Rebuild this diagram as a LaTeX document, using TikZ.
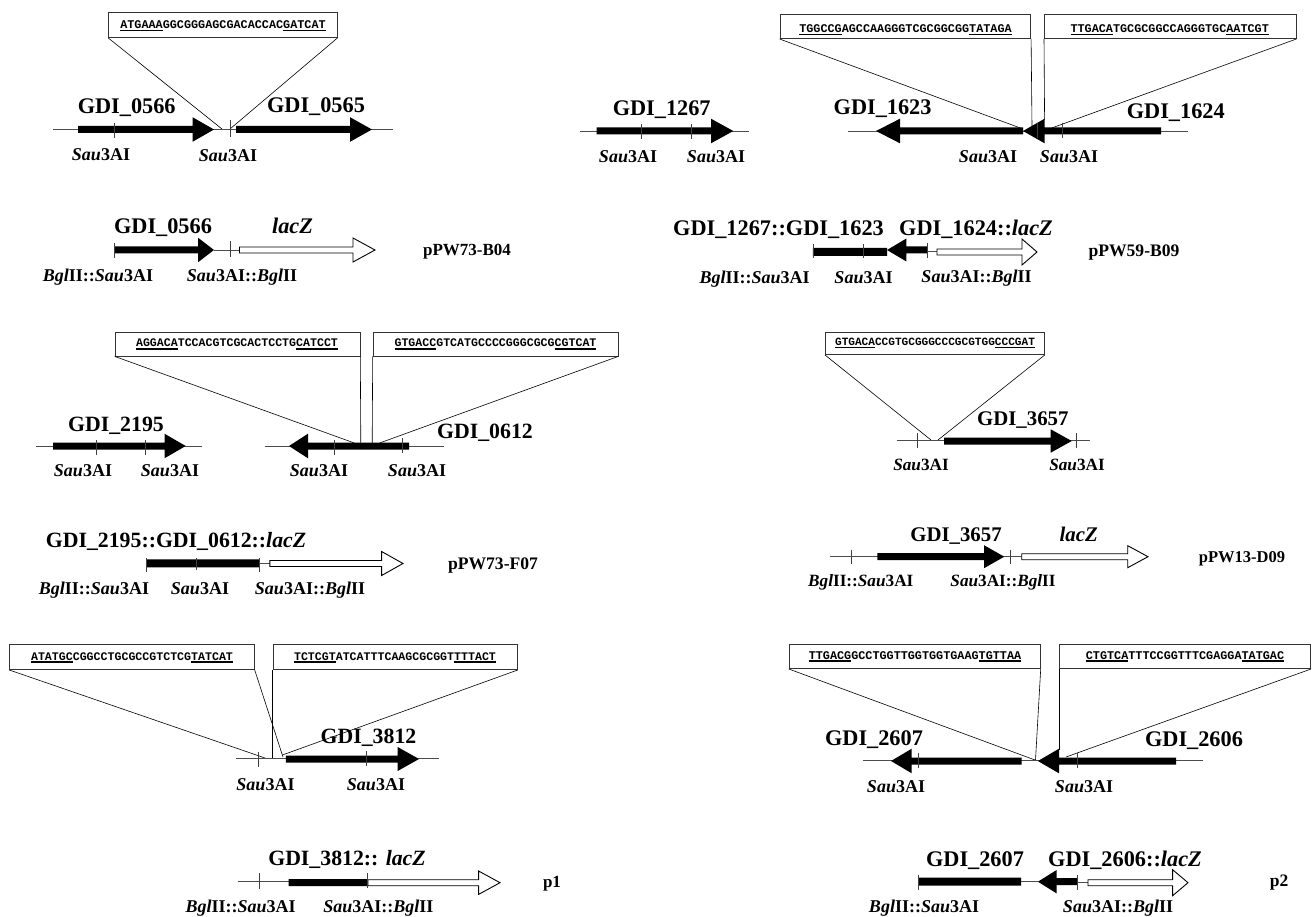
\documentclass[tikz,border=0pt]{standalone}
\usepackage{fontspec}
\setmainfont{Liberation Serif}
\newfontfamily\seqfont{Liberation Mono}
\newcommand\ulpart[1]{\leavevmode\setbox0\hbox{#1}\rlap{\rule[-2.6pt]{\wd0}{1.4pt}}\box0}
\newcommand\seqtxt[3]{\ulpart{#1}#2\ulpart{#3}}
\newcommand\sau{\textit{Sau}3AI}
\newcommand\bgl{\textit{Bgl}II}
\newcommand\garrow[6][7]{%
 \fill ({#2},{#4-#1/2}) -- ({#3-#5},{#4-#1/2}) -- ({#3-#5},{#4-#6}) -- ({#3},{#4}) -- ({#3-#5},{#4+#6}) -- ({#3-#5},{#4+#1/2}) -- ({#2},{#4+#1/2}) -- cycle;}
\newcommand\oarrow[5]{%
 \draw[fill=white,line width=0.9pt] ({#1},{#3-3}) -- ({#2-#4},{#3-3}) -- ({#2-#4},{#3-#5}) -- ({#2},{#3}) -- ({#2-#4},{#3+#5}) -- ({#2-#4},{#3+3}) -- ({#1},{#3+3}) -- cycle;}
\newcommand\tick[3]{\draw[tickline] ({#1},{#2}) -- ({#1},{#3});}
\tikzset{
 dna/.style={line width=0.6pt,draw=black!70},
 tickline/.style={line width=0.7pt,draw=black!75},
 callout/.style={line width=0.6pt,draw=black},
 seqbox/.style={draw=black!80,line width=0.7pt,fill=white,inner sep=0pt,anchor=north west,align=center},
 title/.style={anchor=base,inner sep=0pt,font=\fontsize{22.3}{24}\selectfont\bfseries},
 titlec/.style={anchor=base,inner sep=0pt,font=\fontsize{21.8}{24}\selectfont\bfseries},
 titled/.style={anchor=base,inner sep=0pt,font=\fontsize{20.8}{24}\selectfont\bfseries},
 site/.style={anchor=base,inner sep=0pt,font=\fontsize{18}{20}\selectfont\bfseries},
 sited/.style={anchor=base,inner sep=0pt,font=\fontsize{17.2}{20}\selectfont\bfseries},
 plasmid/.style={anchor=base,inner sep=0pt,font=\fontsize{17}{20}\selectfont\bfseries},
 plasmidb/.style={anchor=base,inner sep=0pt,font=\fontsize{17.6}{20}\selectfont\bfseries},
 seqlab/.style={anchor=base,inner sep=0pt,font=\fontsize{11.8}{13}\seqfont\bfseries},
}
\newcommand\seqbx[5]{% name x1 y1 x2 y2
 \node[seqbox,minimum width={(#4-#2)*1pt},minimum height={(#5-#3)*1pt}] (#1) at (#2,#3) {};}
\begin{document}
\begin{tikzpicture}[x=1pt,y=-1pt]
\useasboundingbox (0,0) rectangle (1312,917);

%% Panel A
\seqbx{boxa}{108.3}{12.3}{336.7}{37.3}
\coordinate (a1) at (222,129); \coordinate (a2) at (230,129);
\draw[callout] (boxa.south west) -- (a1);
\draw[callout] (boxa.south east) -- (a2);
\node[seqlab] (sa) at (223,28.5) {\seqtxt{ATGAAA}{GGCGGGAGCGACACCAC}{GATCAT}};
\draw[dna] (53,129.3) -- (392.7,129.3);
\garrow{78}{214}{129.5}{21.5}{12.3}
\garrow{236}{372}{129.5}{22}{12.3}
\tick{114}{122.7}{138}\tick{230}{120}{137}
\node[title] (ta1) at (126.7,114) {GDI\_0566};
\node[title] (ta2) at (316,113) {GDI\_0565};
\node[site] (sa1) at (101,161) {\sau};
\node[site] (sa2) at (228,162) {\sau};

\draw[dna] (214,250) -- (240,250);
\garrow{114}{214}{250}{16}{12.3}
\oarrow{239.5}{375}{250}{22}{12}
\tick{114}{243}{258.5}\tick{230}{241}{257}
\node[title] (ta3) at (163,234) {GDI\_0566};
\node[title] (ta4) at (292.5,234) {\textit{lacZ}};
\node[site] (sa3) at (98,282) {\bgl::\sau};
\node[site] (sa4) at (242,282) {\sau::\bgl};
\node[plasmid] (pa) at (467,256) {pPW73-B04};

%% Panel B
\seqbx{boxb}{779.6}{14}{1030.4}{38.3}
\seqbx{boxc}{1044}{14}{1295.7}{38.3}
\coordinate (b1) at (1023,129); \coordinate (b2) at (1032,126);
\coordinate (b3) at (1044.6,120); \coordinate (b4) at (1051.7,128);
\draw[callout] (boxb.south west) -- (b1);
\draw[callout] (boxb.south east) -- (b2);
\draw[callout] (boxc.south west) -- (b3);
\draw[callout] (boxc.south east) -- (b4);
\node[seqlab] (sb) at (905.5,32.5) {\seqtxt{TGGCCG}{AGCCAAGGGTCGCGGCGG}{TATAGA}};
\node[seqlab] (sc) at (1169.7,32.5) {\seqtxt{TTGACA}{TGCGCGGCCAGGGTGC}{AATCGT}};
\draw[dna] (580,131) -- (749,131);
\garrow{596.7}{733.3}{131}{22.3}{12.3}
\tick{641}{124}{139}\tick{691}{124}{139}
\node[title] (tb0) at (661.7,115.3) {GDI\_1267};
\node[site] (sb1) at (628,162.7) {\sau};
\node[site] (sb2) at (716,162.7) {\sau};
\draw[dna] (848,131) -- (1187.5,131);
\garrow{1023}{876}{131}{-24}{12.3}
\garrow{1161}{1023}{131}{-21.6}{12.3}
\tick{1037.5}{123}{138}\tick{1062}{123}{138}
\node[title] (tb1) at (882.6,115) {GDI\_1623};
\node[title] (tb2) at (1175.8,119) {GDI\_1624};
\node[site] (sb3) at (988,163) {\sau};
\node[site] (sb4) at (1069,163) {\sau};

\draw[dna] (927.5,251.5) -- (937,251.5);
\garrow[8]{812.9}{887}{252}{0}{4}
\garrow{927.5}{887}{250}{-19.4}{11.5}
\oarrow{937}{1037}{252}{15}{13}
\tick{812.9}{244}{258}\tick{863}{244}{258}\tick{927.5}{243}{258}
\node[title] (tb3) at (778.5,236) {GDI\_1267::GDI\_1623};
\node[title] (tb4) at (976,236) {GDI\_1624::\textit{lacZ}};
\node[site] (sb5) at (754.6,284) {\bgl::\sau};
\node[site] (sb6) at (863.5,284) {\sau};
\node[site] (sb7) at (976.5,282.5) {\sau::\bgl};
\node[plasmidb] (pb) at (1134,257) {pPW59-B09};

%% Panel C
\seqbx{boxd}{114.7}{331.7}{359.6}{355.7}
\seqbx{boxe}{372.7}{331.7}{617.6}{355.7}
\coordinate (c1) at (354.3,443); \coordinate (c2) at (360.8,443);
\coordinate (c3) at (372.2,443); \coordinate (c4) at (379.6,443);
\draw[callout] (boxd.south west) -- (c1);
\draw[callout] (boxd.south east) -- (c2);
\draw[callout] (boxe.south west) -- (c3);
\draw[callout] (boxe.south east) -- (c4);
\node[seqlab,font=\fontsize{11.6}{13}\seqfont\bfseries] (sd) at (237,347) {\seqtxt{AGGACA}{TCCACGTCGCACTCCTG}{CATCCT}};
\node[seqlab,font=\fontsize{11.6}{13}\seqfont\bfseries] (se) at (495.5,347) {\seqtxt{GTGACC}{GTCATGCCCCGGGCGCG}{CGTCAT}};
\draw[dna] (36,446) -- (201.6,446);
\garrow{53}{185.7}{446}{21.2}{12.3}
\tick{96}{440}{455}\tick{145}{440}{455}
\draw[dna] (264.5,446) -- (444,446);
\garrow{409}{289}{446}{-19}{12.3}
\tick{334.7}{440}{455}\tick{402}{438}{453}
\node[titlec] (tc1) at (116,431.7) {GDI\_2195};
\node[titlec] (tc2) at (485,438) {GDI\_0612};
\node[site] (sc1) at (83,476.7) {\sau};
\node[site] (sc2) at (170,476.7) {\sau};
\node[site] (sc3) at (319,476.7) {\sau};
\node[site] (sc4) at (417,476.7) {\sau};

\draw[dna] (259.6,563.5) -- (270,563.5);
\garrow[8]{146}{259.6}{563.3}{0}{4}
\oarrow{269.8}{403}{563.5}{21.4}{12}
\tick{146}{558}{572}\tick{196}{558}{570}\tick{259.6}{558}{572}
\node[titlec] (tc3) at (176,547) {GDI\_2195::GDI\_0612::\textit{lacZ}};
\node[site] (sc5) at (94,594) {\bgl::\sau};
\node[site] (sc6) at (200,594) {\sau};
\node[site] (sc7) at (310,594) {\sau::\bgl};
\node[plasmidb] (pc) at (493,569) {pPW73-F07};

%% Panel D
\seqbx{boxf}{825}{331.7}{1044}{354.3}
\coordinate (d1) at (931,440); \coordinate (d2) at (938,440);
\draw[callout] (boxf.south west) -- (d1);
\draw[callout] (boxf.south east) -- (d2);
\node[seqlab,font=\fontsize{11.1}{13}\seqfont\bfseries] (sf) at (935,345.5) {\seqtxt{GTGACA}{CCGTGCGGGCCCGCGTGG}{CCCGAT}};
\draw[dna] (896.7,440.7) -- (1090,440.7);
\garrow{944}{1071.7}{441}{21}{11.7}
\tick{917.3}{433}{448}\tick{1076.7}{433}{448}
\node[titled] (td1) at (1022.8,425) {GDI\_3657};
\node[sited] (sd1) at (921,470) {\sau};
\node[sited] (sd2) at (1077,470) {\sau};

\draw[dna] (830,556.7) -- (1021.7,556.7);
\garrow{877.3}{1004.3}{556.7}{20.3}{11.5}
\oarrow{1021.7}{1148}{556.7}{20.3}{11}
\tick{851}{549.5}{564}\tick{1010}{549.5}{564}
\node[titled] (td2) at (956,541.7) {GDI\_3657};
\node[titled] (td3) at (1078.7,541.7) {\textit{lacZ}};
\node[sited] (sd3) at (860.8,586) {\bgl::\sau};
\node[sited] (sd4) at (1003,586) {\sau::\bgl};
\node[plasmid,font=\fontsize{16.5}{20}\selectfont\bfseries] (pd) at (1242,562) {pPW13-D09};

%% Panel E
\seqbx{boxg}{9.3}{644.3}{254}{669.3}
\seqbx{boxh}{272.7}{644.3}{517}{669.3}
\coordinate (e1) at (265,758); \coordinate (e2) at (283,757);
\coordinate (e3) at (272.7,758); \coordinate (e4) at (282.4,755);
\draw[callout] (boxg.south west) -- (e1);
\draw[callout] (boxg.south east) -- (e2);
\draw[callout] (boxh.south west) -- (e3);
\draw[callout] (boxh.south east) -- (e4);
\node[seqlab,font=\fontsize{11.6}{13}\seqfont\bfseries] (sg) at (132,660) {\seqtxt{ATATGC}{CGGCCTGCGCCGTCTCG}{TATCAT}};
\node[seqlab,font=\fontsize{11.6}{13}\seqfont\bfseries] (sh) at (395,660) {\seqtxt{TCTCGT}{ATCATTTCAAGCGCGGT}{TTTACT}};
\draw[dna] (236,758.7) -- (439,758.7);
\garrow{285.8}{419}{759}{21.3}{12}
\tick{258}{752}{767}\tick{366}{751}{766}
\node[titlec] (te1) at (368.5,743.3) {GDI\_3812};
\node[site] (se1) at (265.5,790) {\sau};
\node[site] (se2) at (376,790) {\sau};

\draw[dna] (237.6,881.5) -- (288.5,881.5);
\oarrow{367.8}{500}{882.7}{21.4}{11.7}
\garrow{288.5}{367.8}{882.7}{0}{3.5}
\tick{259.3}{873}{889}\tick{367.8}{873}{888}
\node[titlec] (te2) at (347,865) {GDI\_3812:: \textit{lacZ}};
\node[site] (se3) at (240.7,912.3) {\bgl::\sau};
\node[site] (se4) at (378.3,912.3) {\sau::\bgl};
\node[plasmid] (pe) at (552,887) {p1};

%% Panel F
\seqbx{boxi}{788.8}{643.7}{1040}{668.3}
\seqbx{boxj}{1059}{643.7}{1310.4}{668.3}
\coordinate (f1) at (1035,760); \coordinate (f2) at (1035.5,760);
\coordinate (f3) at (1059,750); \coordinate (f4) at (1066,757);
\draw[callout] (boxi.south west) -- (f1);
\draw[callout] (boxi.south east) -- (f2);
\draw[callout] (boxj.south west) -- (f3);
\draw[callout] (boxj.south east) -- (f4);
\node[seqlab] (si) at (915,659) {\seqtxt{TTGACG}{GCCTGGTTGGTGGTGAAG}{TGTTAA}};
\node[seqlab] (sj) at (1185,659) {\seqtxt{CTGTCA}{TTTCCGGTTTCGAGGA}{TATGAC}};
\draw[dna] (862.5,760.7) -- (1202.8,760.7);
\garrow{1021.6}{891}{761}{-20.7}{12.3}
\garrow{1176}{1037.9}{761}{-21.1}{12.3}
\tick{918.4}{753}{768}\tick{1077}{753}{768}
\node[title] (tf1) at (874,745) {GDI\_2607};
\node[title] (tf2) at (1194,746.7) {GDI\_2606};
\node[site] (sf1) at (896,792.7) {\sau};
\node[site] (sf2) at (1084,792.7) {\sau};

\draw[dna] (1021,881.5) -- (1037.9,881.5);
\draw[dna] (1077,882) -- (1088,882);
\garrow[8]{918.8}{1021}{881.7}{0}{4}
\garrow{1077}{1037.9}{881.7}{-18.7}{11.7}
\oarrow{1088}{1188}{882.7}{15.4}{13}
\tick{918.8}{874.5}{889.5}\tick{1077}{874.5}{889.5}
\node[title] (tf3) at (975,866) {GDI\_2607};
\node[title] (tf4) at (1125,866) {GDI\_2606::\textit{lacZ}};
\node[site] (sf3) at (924,912.7) {\bgl::\sau};
\node[site] (sf4) at (1118,912.7) {\sau::\bgl};
\node[plasmid,font=\fontsize{17.5}{20}\selectfont\bfseries] (pf) at (1279,886.7) {p2};
\end{tikzpicture}
\end{document}
